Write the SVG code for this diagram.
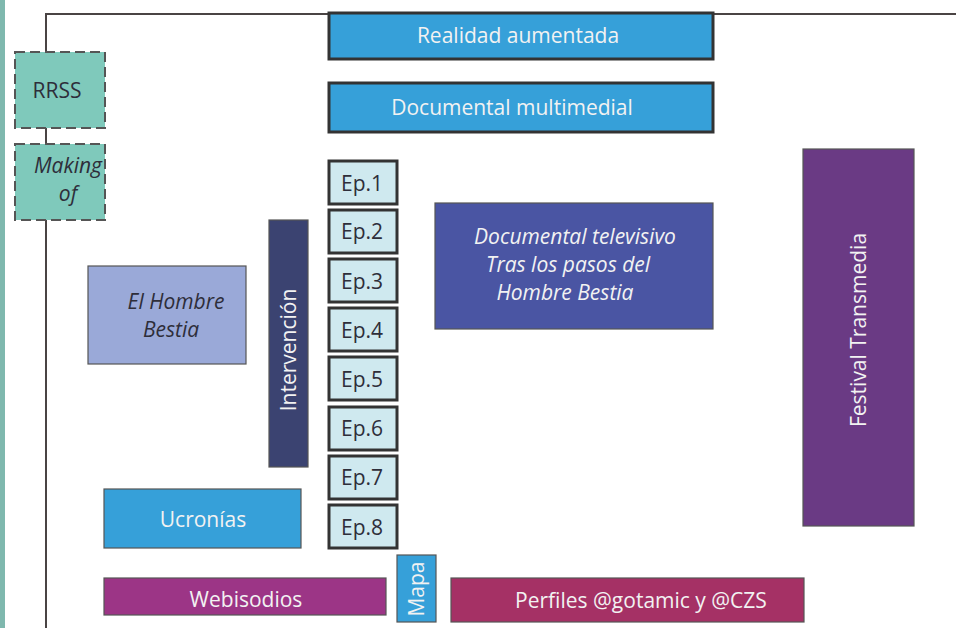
<svg xmlns="http://www.w3.org/2000/svg" width="956" height="628" viewBox="0 0 956 628">
<style>
text{font-family:"Open Sans","Liberation Sans",sans-serif;font-size:21px;text-anchor:middle;dominant-baseline:central}
.w{fill:#f2f2f2}
.d{fill:#2e2e3a}
.it{font-style:italic}
.ep{fill:#cfe9ef;stroke:#333;stroke-width:3}
.blue{fill:#36a0d9;stroke:#333;stroke-width:3}
.teal{fill:#7fc9bb;stroke:#555;stroke-width:2;stroke-dasharray:10 5}
.thin{stroke:#555;stroke-width:1.2}
</style>
<rect x="0" y="0" width="956" height="628" fill="#fff"/>
<rect x="0" y="0" width="5" height="628" fill="#7fb8ae"/>
<g id="connectors" fill="none" stroke="#4a4444" stroke-width="2">
<path d="M46 628 V14 H956"/>
</g>
<g id="rrss"><rect class="teal" x="15" y="52" width="90" height="76"/><text class="d" x="57" y="90">RRSS</text></g>
<g id="making"><rect class="teal" x="15" y="144" width="90" height="76"/><text class="d it" x="68" y="165">Making</text><text class="d it" x="68" y="193">of</text></g>
<g id="realidad"><rect class="blue" x="329" y="13" width="384" height="46"/><text class="w" x="518" y="35">Realidad aumentada</text></g>
<g id="docmulti"><rect class="blue" x="329" y="83" width="384" height="49"/><text class="w" x="512" y="107">Documental multimedial</text></g>
<g id="ep1"><rect class="ep" x="329" y="161" width="68" height="43"/><text class="d" x="362" y="183">Ep.1</text></g>
<g id="ep2"><rect class="ep" x="329" y="210" width="68" height="43"/><text class="d" x="362" y="231">Ep.2</text></g>
<g id="ep3"><rect class="ep" x="329" y="259" width="68" height="43"/><text class="d" x="362" y="281">Ep.3</text></g>
<g id="ep4"><rect class="ep" x="329" y="308" width="68" height="43"/><text class="d" x="362" y="330">Ep.4</text></g>
<g id="ep5"><rect class="ep" x="329" y="357" width="68" height="43"/><text class="d" x="362" y="379">Ep.5</text></g>
<g id="ep6"><rect class="ep" x="329" y="407" width="68" height="43"/><text class="d" x="362" y="428">Ep.6</text></g>
<g id="ep7"><rect class="ep" x="329" y="456" width="68" height="43"/><text class="d" x="362" y="477">Ep.7</text></g>
<g id="ep8"><rect class="ep" x="329" y="505" width="68" height="43"/><text class="d" x="362" y="527">Ep.8</text></g>
<g id="doctv"><rect class="thin" fill="#4a55a3" x="435" y="203" width="278" height="126"/><text class="w it" x="575" y="236">Documental televisivo</text><text class="w it" x="568" y="264">Tras los pasos del</text><text class="w it" x="565" y="292">Hombre Bestia</text></g>
<g id="festival"><rect class="thin" fill="#6a3a84" x="803" y="149" width="111" height="377"/><text class="w" transform="translate(858 330) rotate(-90)">Festival Transmedia</text></g>
<g id="hombre"><rect class="thin" fill="#9aa9d8" x="88" y="266" width="158" height="98"/><text class="d it" x="176" y="301">El Hombre</text><text class="d it" x="171" y="329">Bestia</text></g>
<g id="intervencion"><rect class="thin" fill="#3b4371" x="269" y="220" width="39" height="247"/><text class="w" transform="translate(288 350) rotate(-90)">Intervención</text></g>
<g id="ucronias"><rect class="thin" fill="#36a0d9" x="104" y="489" width="197" height="59"/><text class="w" x="203" y="519">Ucronías</text></g>
<g id="webisodios"><rect class="thin" fill="#9c3586" x="104" y="578" width="282" height="37"/><text class="w" x="246" y="599">Webisodios</text></g>
<g id="mapa"><rect class="thin" fill="#36a0d9" x="397" y="555" width="39" height="67"/><text class="w" transform="translate(416 589) rotate(-90)">Mapa</text></g>
<g id="perfiles"><rect class="thin" fill="#a53165" x="451" y="578" width="353" height="44"/><text class="w" x="641" y="600">Perfiles @gotamic y @CZS</text></g>
</svg>
